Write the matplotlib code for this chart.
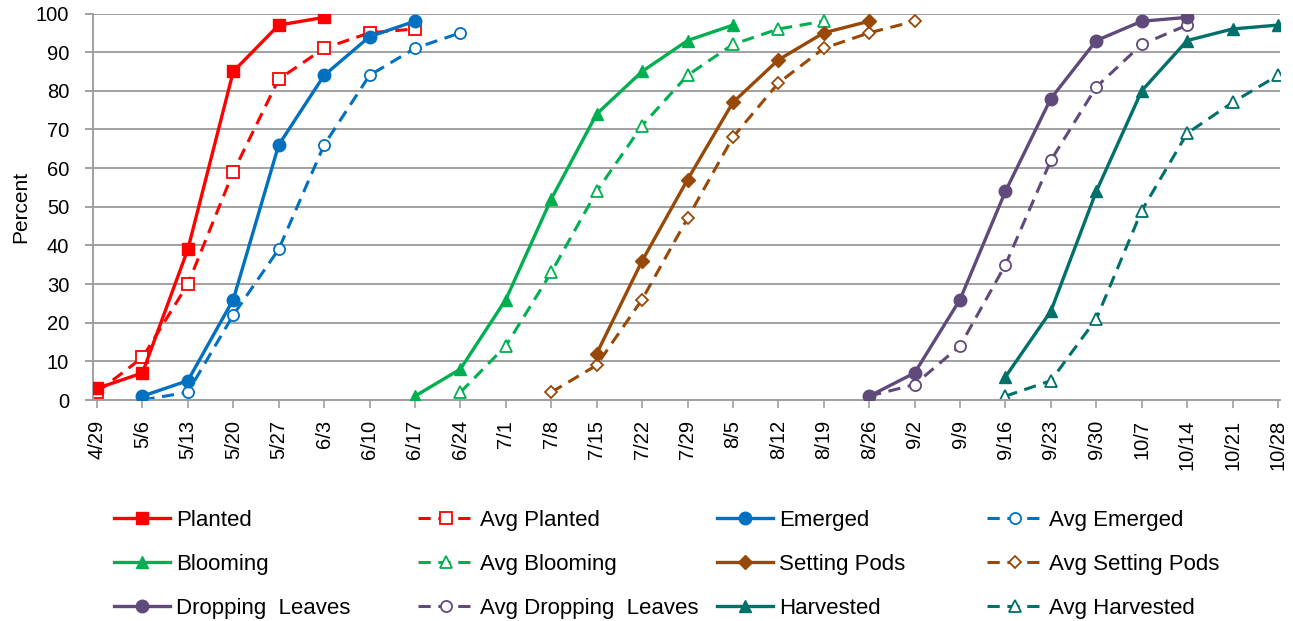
import numpy as np
import matplotlib
matplotlib.use('Agg')
import matplotlib.pyplot as plt

plt.rcParams['font.family'] = ['Liberation Sans', 'DejaVu Sans']

# Semanas (eje de categorías)
weeks = ['4/29', '5/6', '5/13', '5/20', '5/27', '6/3', '6/10', '6/17', '6/24',
         '7/1', '7/8', '7/15', '7/22', '7/29', '8/5', '8/12', '8/19', '8/26',
         '9/2', '9/9', '9/16', '9/23', '9/30', '10/7', '10/14', '10/21', '10/28']

# Valores de cada serie: (semana inicial, porcentajes)
planted = ('4/29', [3, 7, 39, 85, 97, 99])
avg_planted = ('4/29', [2, 11, 30, 59, 83, 91, 95, 96])
emerged = ('5/6', [1, 5, 26, 66, 84, 94, 98])
avg_emerged = ('5/6', [0, 2, 22, 39, 66, 84, 91, 95])
blooming = ('6/17', [1, 8, 26, 52, 74, 85, 93, 97])
avg_blooming = ('6/24', [2, 14, 33, 54, 71, 84, 92, 96, 98])
setting_pods = ('7/15', [12, 36, 57, 77, 88, 95, 98])
avg_setting_pods = ('7/8', [2, 9, 26, 47, 68, 82, 91, 95, 98])
dropping = ('8/26', [1, 7, 26, 54, 78, 93, 98, 99])
avg_dropping = ('8/26', [1, 4, 14, 35, 62, 81, 92, 97])
harvested = ('9/16', [6, 23, 54, 80, 93, 96, 97])
avg_harvested = ('9/16', [1, 5, 21, 49, 69, 77, 84])

red = '#FF0000'
blue = '#0070C0'
green = '#00B050'
brown = '#984807'
purple = '#604A7B'
teal = '#00706A'
grid_gray = '#A0A0A0'

series = [
    ('Planted', planted, red, 's', False),
    ('Avg Planted', avg_planted, red, 's', True),
    ('Emerged', emerged, blue, 'o', False),
    ('Avg Emerged', avg_emerged, blue, 'o', True),
    ('Blooming', blooming, green, '^', False),
    ('Avg Blooming', avg_blooming, green, '^', True),
    ('Setting Pods', setting_pods, brown, 'D', False),
    ('Avg Setting Pods', avg_setting_pods, brown, 'D', True),
    ('Dropping  Leaves', dropping, purple, 'o', False),
    ('Avg Dropping  Leaves', avg_dropping, purple, 'o', True),
    ('Harvested', harvested, teal, '^', False),
    ('Avg Harvested', avg_harvested, teal, '^', True),
]

fig = plt.figure(figsize=(12.93, 6.21), dpi=100)
ax = fig.add_axes([92.7/1293, 1 - 400/621, (1280 - 92.7)/1293, (400 - 13.5)/621])

handles = {}
for name, (start, vals), color, marker, avg in series:
    i0 = weeks.index(start)
    x = np.arange(i0, i0 + len(vals))
    ms = 8 if marker != 'D' else 6
    if avg:
        h, = ax.plot(x, vals, color=color, lw=2.2, linestyle=(0, (4, 2.5)),
                     marker=marker, ms=ms, markerfacecolor='white',
                     markeredgecolor=color, markeredgewidth=1.3, label=name,
                     zorder=2.5)
    else:
        h, = ax.plot(x, vals, color=color, lw=2.4, marker=marker, ms=ms + 1,
                     markerfacecolor=color, markeredgecolor=color, label=name,
                     zorder=3)
    handles[name] = h

ax.set_xlim(-0.095, len(weeks) - 1 + 0.044)
ax.set_ylim(0, 100)
ax.set_yticks(np.arange(0, 101, 10))
ax.set_xticks(np.arange(len(weeks)))
ax.set_xticklabels(weeks, rotation=90, fontsize=14.5)
ax.tick_params(axis='y', length=6, color=grid_gray, width=1.4, labelsize=14.5, pad=11)
ax.tick_params(axis='x', length=6, color=grid_gray, width=1.2, pad=8.5)
ax.yaxis.grid(True, color=grid_gray, lw=1.4)
ax.set_axisbelow(True)
for s in ['right', 'top']:
    ax.spines[s].set_visible(False)
for s in ['left', 'bottom']:
    ax.spines[s].set_color(grid_gray)
    ax.spines[s].set_linewidth(1.4)
ax.set_ylabel('Percent', fontsize=15)
ax.yaxis.set_label_coords(-(92.7 - 30) / (1280 - 92.7), 0.5)

# Leyenda en 4 columnas, llenada por filas
names = [s[0] for s in series]
col_x = [114, 418, 717, 987]
for c in range(4):
    col_names = [names[c + 4 * r] for r in range(3)]
    fig.legend([handles[n] for n in col_names], col_names,
               loc='upper left', bbox_to_anchor=(col_x[c] / 1293, 1 - 510 / 621),
               frameon=False, fontsize=16, handlelength=2.5, handletextpad=0.3,
               labelspacing=1.03, borderaxespad=0, borderpad=0)

fig.savefig('out.png', dpi=100)
